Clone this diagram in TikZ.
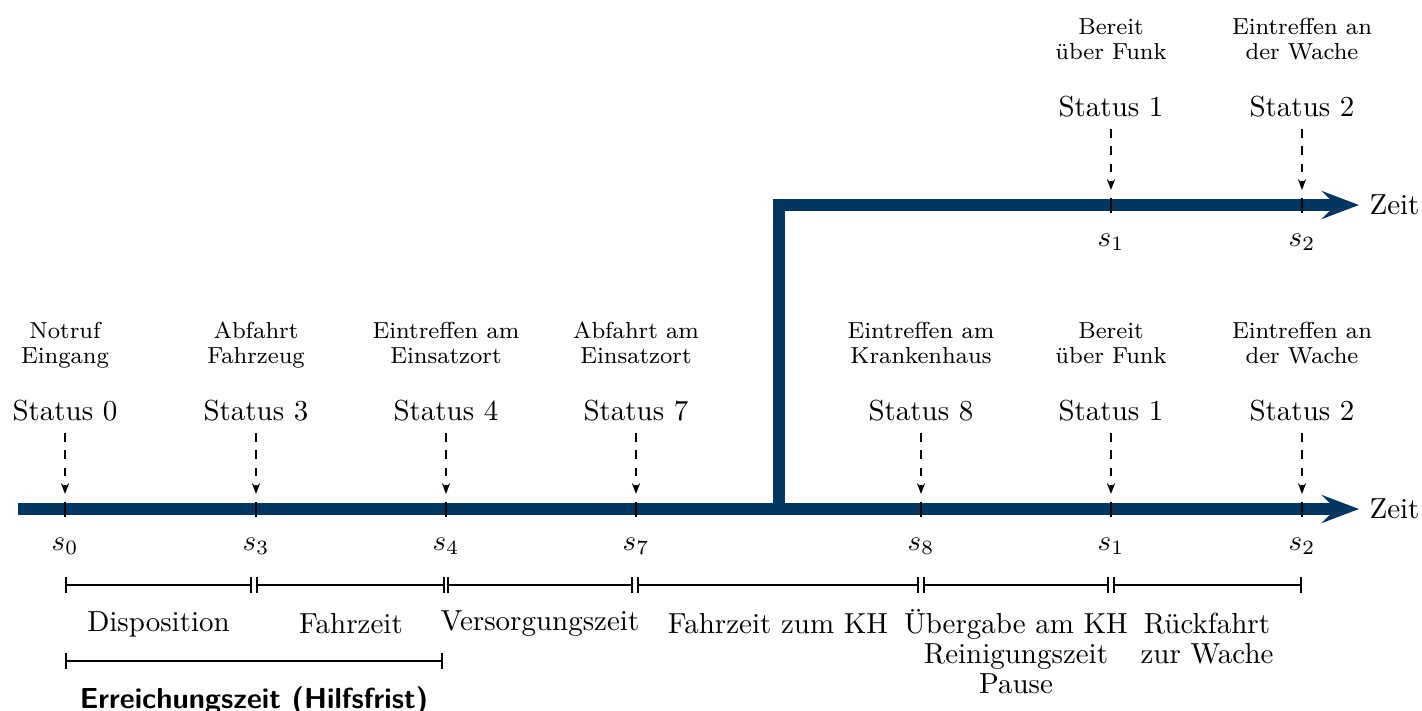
\documentclass[tikz,border=0pt]{standalone}
\usepackage{fontspec}
\usetikzlibrary{arrows.meta}
\definecolor{navy}{RGB}{0,54,96}
\newcommand\mlines[1]{\begin{tabular}[t]{@{}c@{}}#1\end{tabular}}
\begin{document}
\begin{tikzpicture}[x=0.345pt,y=-0.345pt,
  lbl/.style={inner sep=0,anchor=base,font=\fontsize{10}{10.5}\selectfont},
  sml/.style={inner sep=0,anchor=base,font=\fontsize{8}{8.7}\selectfont},
  st/.style={inner sep=0,anchor=base,font=\fontsize{10}{12}\selectfont},
  axis/.style={line width=4.14pt,navy,-{Stealth[length=12.8pt,width=9.6pt,inset=4.8pt]}},
  tick/.style={line width=0.75pt,black},
  dasharrow/.style={dashed,line width=0.7pt,-{Stealth[length=3.7pt,width=2.8pt,inset=1.2pt]},shorten <=4pt,shorten >=5.2pt},
  span/.style={line width=0.7pt,{Bar[width=5.5pt]}-{Bar[width=5.5pt]}}]
\useasboundingbox (0,0) rectangle (1422,710);

% axes
\coordinate (L0) at (18,509);
\coordinate (A) at (1359,509);
\coordinate (K) at (779,509);
\coordinate (B) at (1359,205);
\draw[axis] (L0) -- (A);
\draw[axis] (K) |- (B);
\node[st,anchor=base west] (zl) at (1369,518) {Zeit};
\node[st,anchor=base west] (zu) at (1369,214) {Zeit};

% lower ticks
\foreach \n/\x in {0/65,3/256,4/446,7/636,8/921,1/1111,2/1302}{
  \coordinate (t\n) at (\x,509);
  \draw[tick] (\x,502) -- (\x,517);
  \node[st] (s\n) at (\x,550) {$s_\n$};
}
% upper ticks
\foreach \n/\x in {1/1111,2/1302}{
  \coordinate (u\n) at (\x,205);
  \draw[tick] (\x,198) -- (\x,213);
  \node[st] (us\n) at (\x,246) {$s_\n$};
}

% lower status labels
\node[st] (S0) at (65,420) {Status 0};
\node[st] (S3) at (256,420) {Status 3};
\node[st] (S4) at (446,420) {Status 4};
\node[st] (S7) at (636,420) {Status 7};
\node[st] (S8) at (921,420) {Status 8};
\node[st] (S1) at (1111,420) {Status 1};
\node[st] (S2) at (1302,420) {Status 2};
\foreach \n in {0,3,4,7,8,1,2}{ \draw[dasharrow] (S\n) -- (t\n); }

\node[sml] (D0) at (65,338) {\mlines{Notruf\\Eingang}};
\node[sml] (D3) at (256,338) {\mlines{Abfahrt\\Fahrzeug}};
\node[sml] (D4) at (446,338) {\mlines{Eintreffen am\\Einsatzort}};
\node[sml] (D7) at (636,338) {\mlines{Abfahrt am\\Einsatzort}};
\node[sml] (D8) at (921,338) {\mlines{Eintreffen am\\Krankenhaus}};
\node[sml] (D1) at (1111,338) {\mlines{Bereit\\über Funk}};
\node[sml] (D2) at (1302,338) {\mlines{Eintreffen an\\der Wache}};

% upper status labels
\node[st] (US1) at (1111,116) {Status 1};
\node[st] (US2) at (1302,116) {Status 2};
\draw[dasharrow] (US1) -- (u1);
\draw[dasharrow] (US2) -- (u2);
\node[sml] (UD1) at (1111,34) {\mlines{Bereit\\über Funk}};
\node[sml] (UD2) at (1302,34) {\mlines{Eintreffen an\\der Wache}};

% interval bars
\draw[span] (65,585) -- (252,585);
\draw[span] (256,585) -- (445,585);
\draw[span] (447,585) -- (633,585);
\draw[span] (637,585) -- (919,585);
\draw[span] (923,585) -- (1109,585);
\draw[span] (1113,585) -- (1302,585);
\draw[span] (65,661) -- (443,661);

\node[lbl] (I1) at (158.5,631) {Disposition};
\node[lbl] (I2) at (351,633) {Fahrzeit};
\node[lbl] (I3) at (540,630) {Versorgungszeit};
\node[lbl] (I4) at (778,633) {Fahrzeit zum KH};
\node[lbl] (I5) at (1016,633) {\mlines{Übergabe am KH\\Reinigungszeit\\Pause}};
\node[lbl] (I6) at (1207,633) {\mlines{Rückfahrt\\zur Wache}};
\node[inner sep=0,anchor=base,font=\sffamily\bfseries] (I7) at (254,708) {Erreichungszeit (Hilfsfrist)};
\end{tikzpicture}
\end{document}
